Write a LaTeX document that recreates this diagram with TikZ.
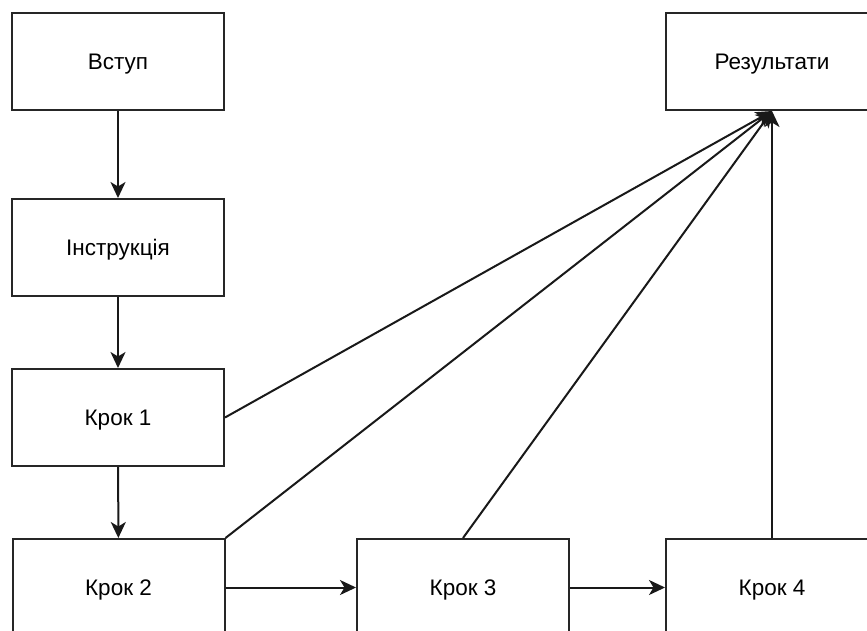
\documentclass[tikz,border=0pt]{standalone}
\usepackage{fontspec}
\setmainfont{Liberation Sans}
\usetikzlibrary{arrows.meta}
\begin{document}
\begin{tikzpicture}[x=1pt,y=-1pt,
  stepbox/.style={draw=black!85,line width=2pt,fill=white,minimum width=212pt,minimum height=97pt,
    inner sep=0pt,text height=15pt,text depth=0pt,font=\fontsize{22.5}{26}\selectfont},
  link/.style={draw=black!90,line width=2pt,-{Stealth[length=16pt,width=15pt,inset=4.5pt]}},
  fan/.style={link}]
\useasboundingbox (0,0) rectangle (867,630);
\clip (0,0) rectangle (867,630);
\node[stepbox] (intro)   at (118,61.5)  {Вступ};
\node[stepbox] (instr)   at (118,247.5) {Інструкція};
\node[stepbox] (s1)      at (118,417.5) {Крок 1};
\node[stepbox] (s2)      at (118.5,587.5) {Крок 2};
\node[stepbox] (s3)      at (463,587.5) {Крок 3};
\node[stepbox] (s4)      at (772,587.5) {Крок 4};
\node[stepbox] (res)     at (772,61.5)  {Результати};
\draw[link] (intro) -- (instr);
\draw[link] (instr) -- (s1);
\draw[link] (s1) -- (s2);
\draw[link] (s2) -- (s3);
\draw[link] (s3) -- (s4);
\draw[fan] (s1.east) -- (res.south);
\draw[fan] (s2.north east) -- (res.south);
\draw[fan] (s3.north) -- (res.south);
\draw[fan] (s4.north) -- (res.south);
\end{tikzpicture}
\end{document}
